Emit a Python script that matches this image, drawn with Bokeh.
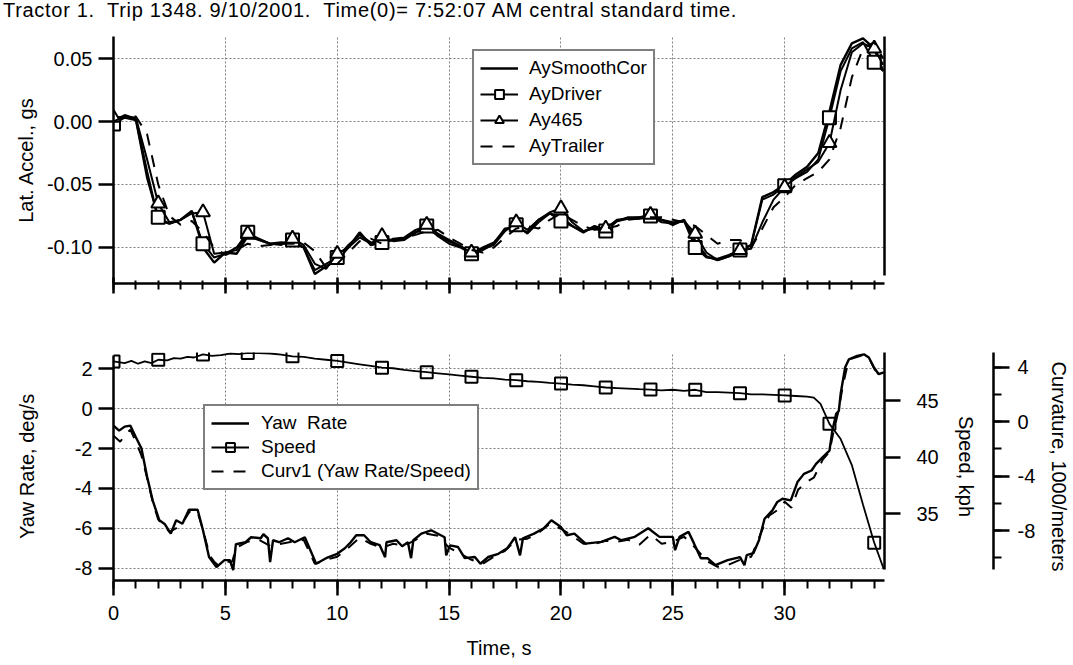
from bokeh.plotting import figure
from bokeh.models import (Range1d, LinearAxis, SingleIntervalTicker, FixedTicker, Legend,
                          LegendItem, Div, CustomJSTickFormatter, PrintfTickFormatter)
from bokeh.layouts import column
from bokeh.embed import file_html
from bokeh.resources import INLINE

FONT = "Liberation Sans"
TITLE = "Tractor 1.&nbsp; Trip 1348. 9/10/2001.&nbsp; Time(0)= 7:52:07 AM central standard time."

# ---------------- top panel data (lateral acceleration, g) ----------------
t_ay = [0.0, 0.5, 1.0, 1.5, 2.0, 2.5, 3.0, 3.5, 4.0, 4.5, 5.0, 5.5, 6.0, 6.5, 7.0, 7.5, 8.0, 8.5,
        9.0, 9.5, 10.0, 10.5, 11.0, 11.5, 12.0, 12.5, 13.0, 13.5, 14.0, 14.5, 15.0, 15.5, 16.0,
        16.5, 17.0, 17.5, 18.0, 18.5, 19.0, 19.5, 20.0, 20.5, 21.0, 21.5, 22.0, 22.5, 23.0, 23.5,
        24.0, 24.5, 25.0, 25.5, 26.0, 26.5, 27.0, 27.5, 28.0, 28.5, 29.0, 29.5, 30.0, 30.5, 31.0,
        31.5, 32.0, 32.5, 33.0, 33.5, 34.0, 34.4]
ay_smooth = [0.000, 0.005, 0.002, -0.040, -0.078, -0.081, -0.078, -0.071, -0.100, -0.112, -0.104,
             -0.105, -0.091, -0.094, -0.097, -0.096, -0.097, -0.100, -0.121, -0.115, -0.110, -0.100,
             -0.088, -0.098, -0.096, -0.094, -0.093, -0.088, -0.085, -0.090, -0.095, -0.099, -0.104,
             -0.102, -0.097, -0.085, -0.084, -0.088, -0.078, -0.073, -0.076, -0.083, -0.088, -0.083,
             -0.086, -0.079, -0.077, -0.077, -0.076, -0.078, -0.082, -0.078, -0.095, -0.107, -0.110,
             -0.107, -0.103, -0.098, -0.060, -0.056, -0.050, -0.042, -0.036, -0.025, 0.008, 0.045,
             0.062, 0.066, 0.058, 0.040]
ay_driver = [-0.002, 0.003, 0.001, -0.045, -0.076, -0.081, -0.078, -0.072, -0.097, -0.108, -0.105,
             -0.100, -0.088, -0.094, -0.097, -0.097, -0.094, -0.100, -0.118, -0.113, -0.108, -0.098,
             -0.090, -0.096, -0.096, -0.094, -0.092, -0.086, -0.083, -0.091, -0.097, -0.100, -0.105,
             -0.100, -0.096, -0.086, -0.082, -0.089, -0.080, -0.073, -0.079, -0.083, -0.087, -0.085,
             -0.087, -0.079, -0.076, -0.076, -0.075, -0.080, -0.081, -0.079, -0.100, -0.108, -0.109,
             -0.106, -0.102, -0.098, -0.062, -0.058, -0.051, -0.045, -0.040, -0.030, 0.003, 0.040,
             0.058, 0.063, 0.047, 0.040]
ay_465 = [0.003, 0.004, 0.003, -0.030, -0.065, -0.080, -0.078, -0.073, -0.072, -0.105, -0.104,
          -0.102, -0.089, -0.093, -0.097, -0.098, -0.093, -0.098, -0.113, -0.117, -0.105, -0.100,
          -0.092, -0.097, -0.091, -0.095, -0.094, -0.088, -0.082, -0.089, -0.094, -0.099, -0.104,
          -0.101, -0.098, -0.087, -0.080, -0.086, -0.078, -0.072, -0.069, -0.080, -0.087, -0.084,
          -0.085, -0.078, -0.077, -0.076, -0.074, -0.078, -0.080, -0.079, -0.089, -0.104, -0.110,
          -0.107, -0.102, -0.101, -0.080, -0.062, -0.052, -0.044, -0.038, -0.032, -0.017, 0.025,
          0.055, 0.062, 0.058, 0.045]
ay_trailer = [0.000, 0.004, 0.004, -0.010, -0.050, -0.075, -0.082, -0.079, -0.088, -0.100, -0.106,
              -0.102, -0.097, -0.099, -0.098, -0.097, -0.097, -0.096, -0.103, -0.116, -0.113, -0.104,
              -0.095, -0.093, -0.097, -0.093, -0.092, -0.090, -0.087, -0.086, -0.092, -0.097, -0.102,
              -0.104, -0.100, -0.092, -0.085, -0.083, -0.085, -0.078, -0.073, -0.078, -0.083, -0.086,
              -0.085, -0.083, -0.078, -0.077, -0.076, -0.076, -0.078, -0.080, -0.083, -0.090, -0.097,
              -0.094, -0.094, -0.100, -0.085, -0.068, -0.060, -0.050, -0.045, -0.040, -0.030, -0.005,
              0.035, 0.058, 0.063, 0.050]

# ---------------- bottom panel data ----------------
t_yaw = [0.0, 0.25, 0.5, 0.75, 1.0, 1.25, 1.5, 1.75, 2.05, 2.3, 2.56, 2.8, 3.08, 3.37, 3.76, 4.0,
         4.27, 4.6, 4.96, 5.2, 5.35, 5.47, 5.9, 6.15, 6.58, 6.7, 6.9, 7.0, 7.13, 7.4, 7.8, 8.1,
         8.55, 8.8, 9.06, 9.5, 10.0, 10.34, 10.6, 10.85, 11.2, 11.5, 11.9, 12.14, 12.2, 12.65,
         12.9, 13.16, 13.3, 13.4, 13.76, 14.2, 14.8, 14.87, 15.04, 15.4, 15.7, 16.15, 16.4, 16.75,
         17.2, 17.6, 17.95, 18.17, 18.3, 18.8, 19.23, 19.57, 20.0, 20.26, 20.6, 21.1, 21.8, 22.4,
         22.7, 23.3, 23.9, 24.4, 25.0, 25.1, 25.3, 25.7, 25.95, 26.25, 26.55, 26.9, 27.45, 28.0,
         28.2, 28.3, 28.6, 28.85, 29.1, 29.45, 29.67, 29.9, 30.27, 30.57, 30.86, 31.2, 31.4, 31.7,
         32.0, 32.13, 32.3, 32.42, 32.5, 32.7, 32.87, 33.24, 33.54, 33.76, 33.99, 34.2, 34.43]
yaw_rate = [-0.85, -1.1, -0.9, -0.85, -1.43, -2.0, -3.4, -4.6, -5.6, -5.8, -6.27, -5.6, -5.77,
            -5.07, -5.07, -6.1, -7.44, -7.95, -7.6, -7.6, -8.1, -6.8, -6.7, -6.45, -6.5, -6.3,
            -6.5, -7.7, -6.6, -6.7, -6.5, -6.7, -6.45, -7.1, -7.78, -7.5, -7.28, -7.0, -6.7, -6.35,
            -6.35, -6.7, -6.85, -7.45, -6.7, -6.6, -6.9, -6.7, -7.5, -6.6, -6.27, -6.1, -6.45,
            -7.36, -6.86, -6.94, -7.5, -7.44, -7.78, -7.44, -7.28, -7.0, -6.45, -7.36, -6.5, -6.27,
            -6.0, -5.6, -5.94, -6.35, -6.27, -6.77, -6.68, -6.43, -6.6, -6.43, -6.0, -6.43, -6.43,
            -7.1, -6.43, -6.18, -6.77, -7.5, -7.5, -7.85, -7.6, -7.45, -7.85, -7.35, -7.25, -6.6,
            -5.52, -5.1, -4.68, -4.52, -4.6, -3.68, -3.27, -3.1, -2.77, -2.43, -2.1, -1.1, -0.25,
            -0.1, 0.75, 2.07, 2.48, 2.65, 2.73, 2.57, 2.07, 1.73, 1.82]

t_speed = [0.0, 0.5, 0.8, 1.1, 1.4, 1.7, 2.0, 2.4, 2.7, 3.0, 3.3, 3.6, 4.0, 4.4, 4.8, 5.2, 5.6,
           6.0, 6.5, 7.0, 7.5, 8.0, 8.5, 9.0, 9.5, 10.0, 10.5, 11.0, 11.5, 12.0, 12.5, 13.0, 13.5,
           14.0, 14.5, 15.0, 15.5, 16.0, 16.5, 17.0, 17.5, 18.0, 18.5, 19.0, 19.5, 20.0, 20.5,
           21.0, 21.5, 22.0, 22.5, 23.0, 23.5, 24.0, 24.5, 25.0, 25.5, 26.0, 26.5, 27.0, 27.5,
           28.0, 28.5, 29.0, 29.5, 30.0, 30.5, 31.0, 31.3, 31.6, 32.0, 32.5, 33.0, 33.5, 34.0, 34.43]
speed = [48.45, 48.3, 48.5, 48.25, 48.45, 48.3, 48.6, 48.55, 48.75, 48.7, 48.85, 48.8, 49.07,
         48.95, 49.0, 49.15, 49.1, 49.2, 49.18, 49.15, 49.05, 48.9, 48.85, 48.7, 48.6, 48.5, 48.35,
         48.2, 48.05, 47.9, 47.85, 47.7, 47.6, 47.5, 47.4, 47.3, 47.2, 47.1, 47.0, 46.95, 46.85,
         46.8, 46.7, 46.65, 46.55, 46.5, 46.4, 46.35, 46.25, 46.15, 46.1, 46.05, 46.0, 45.97, 45.9,
         45.95, 45.85, 45.95, 45.75, 45.75, 45.7, 45.65, 45.55, 45.55, 45.5, 45.45, 45.4, 45.35,
         45.25, 44.7, 42.94, 41.6, 39.3, 35.8, 32.45, 30.1]

t_curv = [0.0, 0.3, 0.5, 0.75, 1.0, 1.25, 1.5, 1.75, 2.0, 2.5, 3.0, 3.4, 3.75, 4.0, 4.3, 4.5, 4.7,
          5.0, 5.3, 5.5, 6.0, 6.5, 7.0, 7.5, 8.0, 8.5, 9.0, 9.5, 10.0, 10.5, 11.0, 11.5, 12.0,
          12.5, 13.0, 13.5, 14.0, 14.5, 15.0, 15.5, 16.0, 16.5, 17.0, 17.5, 18.0, 18.5, 19.0, 19.5,
          20.0, 20.5, 21.0, 21.5, 22.0, 22.5, 23.0, 23.5, 24.0, 24.5, 25.0, 25.5, 26.0, 26.5,
          27.0, 27.5, 28.0, 28.5, 29.0, 29.3, 29.7, 30.0, 30.3, 30.6, 31.0, 31.3, 31.7, 32.0,
          32.2, 32.4, 32.6, 32.8, 33.0, 33.3, 33.55, 33.8, 34.0, 34.2, 34.43]
curv1 = [-1.03, -1.47, -1.03, -0.59, -1.47, -2.5, -4.12, -5.88, -7.2, -8.09, -7.65, -6.62, -6.62,
         -7.94, -9.85, -10.29, -10.59, -10.29, -10.29, -9.26, -8.82, -8.68, -9.12, -8.97, -8.82,
         -8.68, -10.44, -10.15, -9.93, -9.26, -8.53, -8.97, -9.26, -8.97, -9.12, -8.68, -8.24,
         -8.38, -9.26, -9.71, -10.15, -10.44, -9.93, -9.49, -8.68, -8.6, -8.16, -7.5, -7.87,
         -8.38, -8.97, -8.97, -8.75, -8.82, -8.68, -9.04, -8.31, -8.97, -8.82, -8.46, -9.26,
         -10.22, -10.66, -10.51, -10.15, -9.93, -7.94, -6.91, -6.47, -5.88, -6.32, -5.0, -4.41,
         -4.12, -2.79, -2.21, -0.59, 0.74, 2.65, 4.12, 4.63, 4.78, 4.93, 4.56, 3.9, 3.46, 3.6]

# marker subsets (every 2 s)
mk_t = [t for t in t_ay if t == int(t) and int(t) % 2 == 0]
mk_driver = [v for t, v in zip(t_ay, ay_driver) if t in mk_t]
mk_465 = [v for t, v in zip(t_ay, ay_465) if t in mk_t]
mk_ts = [t for t in t_speed if t == int(t) and int(t) % 2 == 0]
mk_speed = [v for t, v in zip(t_speed, speed) if t in mk_ts]

X_MAX = 34.46
TICK_FS = "20px"
LABEL_FS = "20px"


def style_axis(ax, tick_size=TICK_FS, label_size=LABEL_FS):
    ax.axis_line_width = 2.5
    ax.axis_line_color = "black"
    ax.major_tick_line_width = 2.5
    ax.minor_tick_line_width = 2
    ax.major_tick_line_color = "black"
    ax.minor_tick_line_color = "black"
    ax.major_label_text_font = FONT
    ax.major_label_text_font_size = tick_size
    ax.major_label_text_color = "black"
    ax.axis_label_text_font = FONT
    ax.axis_label_text_font_size = label_size
    ax.axis_label_text_font_style = "normal"
    ax.axis_label_text_color = "black"


def style_grid(p):
    for g in (p.xgrid[0], p.ygrid[0]):
        g.grid_line_color = "#808080"
        g.grid_line_dash = "2 2"
        g.grid_line_width = 1


# ---------------- title ----------------
title_div = Div(text=TITLE, width=1000, height=20, margin=(0, 0, 0, 3),
                styles={"font-family": FONT, "font-size": "20px", "line-height": "20px",
                        "letter-spacing": "0.7px", "color": "black", "white-space": "nowrap"})

# ---------------- top figure ----------------
p1 = figure(frame_width=771, frame_height=247, x_range=Range1d(0, X_MAX),
            y_range=Range1d(-0.1286, 0.0675), output_backend="svg", toolbar_location=None,
            min_border_left=113, min_border_right=20, min_border_top=16, min_border_bottom=40)
p1.outline_line_color = None
p1.background_fill_color = "white"

xa = p1.xaxis[0]
xa.ticker = SingleIntervalTicker(interval=5, num_minor_ticks=5)
xa.formatter = CustomJSTickFormatter(code="return ''")
style_axis(xa)
xa.major_tick_in = 6
xa.major_tick_out = 10
xa.minor_tick_in = 3
xa.minor_tick_out = 6
xa.major_label_standoff = 0

ya = p1.yaxis[0]
ya.ticker = SingleIntervalTicker(interval=0.05, num_minor_ticks=0)
ya.formatter = PrintfTickFormatter(format="%.2f")
ya.axis_label = "Lat. Accel., gs"
style_axis(ya)
ya.major_tick_in = 0
ya.major_tick_out = 15
ya.major_label_standoff = 6
ya.axis_label_standoff = 7

ra = LinearAxis(ticker=FixedTicker(ticks=[]), bounds=(-0.1222, 0.0675))
style_axis(ra)
ra.major_tick_out = 0
ra.major_tick_in = 0
ra.minor_tick_out = 0
p1.add_layout(ra, "right")
style_grid(p1)

r_smooth = p1.line(t_ay, ay_smooth, line_color="black", line_width=2.4)
r_drv_l = p1.line(t_ay, ay_driver, line_color="black", line_width=2)
r_drv_m = p1.scatter(mk_t, mk_driver, marker="square", size=13, fill_color="white",
                     line_color="black", line_width=2)
r_465_l = p1.line(t_ay, ay_465, line_color="black", line_width=2)
r_465_m = p1.scatter(mk_t, mk_465, marker="triangle", size=14, fill_color="white",
                     line_color="black", line_width=2)
r_trl = p1.line(t_ay, ay_trailer, line_color="black", line_width=2, line_dash="12 10")

leg1 = Legend(items=[LegendItem(label="AySmoothCor", renderers=[r_smooth]),
                     LegendItem(label="AyDriver", renderers=[r_drv_l, r_drv_m]),
                     LegendItem(label="Ay465", renderers=[r_465_l, r_465_m]),
                     LegendItem(label="AyTrailer", renderers=[r_trl])],
              location=(359, 118), margin=0, padding=6, spacing=4, label_height=22,
              glyph_height=22, glyph_width=38, label_standoff=11,
              label_text_font=FONT, label_text_font_size="19px", label_text_color="black",
              border_line_color="black", border_line_width=2, background_fill_color="white",
              background_fill_alpha=1.0)
p1.add_layout(leg1, "center")

# ---------------- bottom figure ----------------
p2 = figure(frame_width=771, frame_height=228, x_range=Range1d(0, X_MAX),
            y_range=Range1d(-8.62, 2.82), output_backend="svg", toolbar_location=None,
            min_border_left=113, min_border_right=2, min_border_top=29, min_border_bottom=10)
p2.outline_line_color = None
p2.extra_y_ranges = {"speed": Range1d(29.11, 49.24), "curv": Range1d(-11.67, 5.08)}

xb = p2.xaxis[0]
xb.ticker = SingleIntervalTicker(interval=5, num_minor_ticks=5)
xb.formatter = PrintfTickFormatter(format="%d")
xb.axis_label = "Time, s"
style_axis(xb)
xb.major_tick_in = 0
xb.major_tick_out = 15
xb.minor_tick_in = 0
xb.minor_tick_out = 8
xb.major_label_standoff = 10
xb.axis_label_standoff = 14

yb = p2.yaxis[0]
yb.ticker = SingleIntervalTicker(interval=2, num_minor_ticks=0)
yb.formatter = PrintfTickFormatter(format="%d")
yb.axis_label = "Yaw Rate, deg/s"
yb.bounds = (-8.62, 2.66)
style_axis(yb)
yb.major_tick_in = 0
yb.major_tick_out = 15
yb.major_label_standoff = 6
yb.axis_label_standoff = 34

ax_speed = LinearAxis(y_range_name="speed", ticker=SingleIntervalTicker(interval=5, num_minor_ticks=0),
                      formatter=PrintfTickFormatter(format="%d"), axis_label="Speed, kph",
                      bounds=(30.06, 49.24))
style_axis(ax_speed)
ax_speed.major_tick_in = 0
ax_speed.major_tick_out = 16
ax_speed.major_label_standoff = 16
ax_speed.axis_label_standoff = 13
p2.add_layout(ax_speed, "right")

spacer = LinearAxis(y_range_name="speed", ticker=FixedTicker(ticks=[]), axis_label=" ")
spacer.axis_line_color = None
spacer.major_tick_out = 0
spacer.minor_tick_out = 0
spacer.axis_label_standoff = 0
spacer.axis_label_text_font_size = "10px"
p2.add_layout(spacer, "right")

ax_curv = LinearAxis(y_range_name="curv", ticker=SingleIntervalTicker(interval=4, num_minor_ticks=2),
                     formatter=PrintfTickFormatter(format="%d"), axis_label="Curvature, 1000/meters",
                     bounds=(-10.87, 5.08))
style_axis(ax_curv)
ax_curv.major_tick_in = 0
ax_curv.major_tick_out = 16
ax_curv.minor_tick_in = 0
ax_curv.minor_tick_out = 8
ax_curv.major_label_standoff = 8
ax_curv.axis_label_standoff = 10
p2.add_layout(ax_curv, "right")
style_grid(p2)

r_curv = p2.line(t_curv, curv1, y_range_name="curv", line_color="black", line_width=2,
                 line_dash="12 10")
r_yaw = p2.line(t_yaw, yaw_rate, line_color="black", line_width=2.4)
r_spd_l = p2.line(t_speed, speed, y_range_name="speed", line_color="black", line_width=1.8)
r_spd_m = p2.scatter(mk_ts, mk_speed, y_range_name="speed", marker="square", size=12,
                     fill_color=None, line_color="black", line_width=2)

leg2 = Legend(items=[LegendItem(label="Yaw  Rate", renderers=[r_yaw]),
                     LegendItem(label="Speed", renderers=[r_spd_l, r_spd_m]),
                     LegendItem(label="Curv1 (Yaw Rate/Speed)", renderers=[r_curv])],
              location=(90, 90), margin=0, padding=6, spacing=2, label_height=22,
              glyph_height=22, glyph_width=38, label_standoff=12,
              label_text_font=FONT, label_text_font_size="19px", label_text_color="black",
              border_line_color="black", border_line_width=2, background_fill_color="white",
              background_fill_alpha=1.0)
p2.add_layout(leg2, "center")

layout = column(title_div, p1, p2, spacing=0)
open("out.html", "w").write(file_html(layout, INLINE))
